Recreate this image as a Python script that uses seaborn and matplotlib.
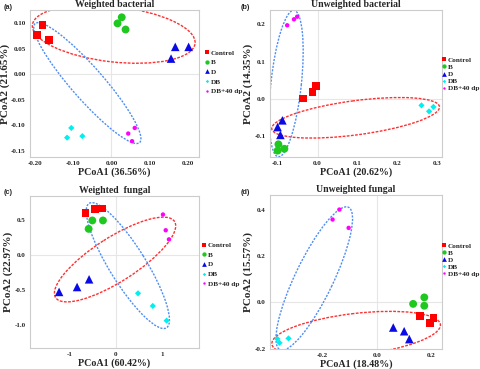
import numpy as np
import pandas as pd
import matplotlib
matplotlib.use("Agg")
import matplotlib.pyplot as plt
import seaborn as sns
from matplotlib.patches import Ellipse
from matplotlib.transforms import IdentityTransform

# group labels (same order in every panel, 3 samples each)
groups = ["Control"] * 3 + ["B"] * 3 + ["D"] * 3 + ["DB"] * 3 + ["DB+40 dp"] * 3
group_order = ["Control", "B", "D", "DB", "DB+40 dp"]

# (a) weighted bacterial
a_x = [-0.194, -0.180, -0.164, 0.016, 0.027, 0.037, 0.156, 0.167, 0.202,
       -0.116, -0.105, -0.076, 0.044, 0.054, 0.061]
a_y = [0.077, 0.097, 0.067, 0.100, 0.112, 0.088, 0.031, 0.054, 0.054,
       -0.124, -0.105, -0.121, -0.116, -0.131, -0.105]
# (b) unweighted bacterial
b_x = [-0.036, -0.013, -0.004, -0.098, -0.100, -0.083, -0.100, -0.088, -0.093,
       0.260, 0.279, 0.290, -0.076, -0.059, -0.051]
b_y = [0.001, 0.018, 0.034, -0.121, -0.138, -0.133, -0.075, -0.057, -0.096,
       -0.017, -0.033, -0.021, 0.197, 0.213, 0.220]
# (c) weighted fungal
c_x = [-0.66, -0.45, -0.30, -0.51, -0.28, -0.59, -1.23, -0.84, -0.58,
       0.48, 0.80, 1.10, 1.02, 1.08, 1.15]
c_y = [0.60, 0.65, 0.66, 0.49, 0.49, 0.37, -0.53, -0.46, -0.35,
       -0.55, -0.73, -0.94, 0.575, 0.35, 0.22]
# (d) unweighted fungal
d_x = [0.158, 0.196, 0.208, 0.133, 0.174, 0.174, 0.060, 0.100, 0.119,
       -0.366, -0.358, -0.325, -0.163, -0.138, -0.104]
d_y = [-0.058, -0.088, -0.066, -0.006, 0.022, -0.014, -0.108, -0.124, -0.158,
       -0.157, -0.174, -0.155, 0.358, 0.401, 0.322]

titles = ["Weighted bacterial", "Unweighted bacterial", "Weighted  fungal", "Unweighted fungal"]
letters = ["(a)", "(b)", "(c)", "(d)"]
x_labels = ["PCoA1 (36.56%)", "PCoA1 (20.62%)", "PCoA1 (60.42%)", "PCoA1 (18.48%)"]
y_labels = ["PCoA2 (21.65%)", "PCoA2 (14.35%)", "PCoA2 (22.97%)", "PCoA2 (15.57%)"]

# groups enclosed by the red and blue ellipses
red_groups = [["Control", "B", "D"], ["D", "DB"], ["D", "DB+40 dp"], ["Control", "D", "DB"]]
blue_groups = [["Control", "DB+40 dp"], ["B", "D", "DB+40 dp"], ["Control", "DB"], ["DB", "DB+40 dp"]]

sns.set_style("white")
plt.rcParams["font.family"] = ["Liberation Serif", "DejaVu Serif"]
plt.rcParams["font.weight"] = "bold"

palette = {"Control": "#ff0000", "B": "#1ec81e", "D": "#0a0ae6",
           "DB": "#00f0f0", "DB+40 dp": "#ff00ff"}
markers = {"Control": "s", "B": "o", "D": "^", "DB": "D", "DB+40 dp": "o"}
sizes = {"Control": 30, "B": 32, "D": 38, "DB": 10, "DB+40 dp": 10}


def group_ellipse(ax, df, members, color, ls, pad_major=6, pad_minor=10):
    # ellipse along the principal axis of the enclosed groups (pixel space)
    sub = df[df["group"].isin(members)]
    pix = ax.transData.transform(sub[["x", "y"]].to_numpy())
    mu = pix.mean(axis=0)
    vals, vecs = np.linalg.eigh(np.cov((pix - mu).T))
    major = vecs[:, 1]
    minor = vecs[:, 0]
    u = (pix - mu) @ major
    v = (pix - mu) @ minor
    uc = (u.max() + u.min()) / 2
    vc = (v.max() + v.min()) / 2
    a = np.abs(u - uc).max() + pad_major
    b = np.abs(v - vc).max() + pad_minor
    center = mu + uc * major + vc * minor
    angle = np.degrees(np.arctan2(major[1], major[0]))
    ax.add_patch(Ellipse(center, 2 * a, 2 * b, angle=angle, fill=False,
                         edgecolor=color, lw=1.0, linestyle=ls,
                         transform=IdentityTransform(), zorder=1))


fig = plt.figure(figsize=(4.8, 3.69), dpi=100)
axes_pos = [[0.0625, 0.5745, 0.352, 0.398],
            [0.5625, 0.5745, 0.358, 0.398],
            [0.0625, 0.057, 0.352, 0.412],
            [0.5625, 0.054, 0.358, 0.417]]
limits = [((-0.213, 0.229), (-0.162, 0.126)),
          ((-0.119, 0.311), (-0.155, 0.2375)),
          ((-1.86, 1.80), (-1.33, 0.84)),
          ((-0.393, 0.2385), (-0.201, 0.463))]
xticks = [[-0.2, -0.1, 0, 0.1, 0.2], [-0.1, 0, 0.1, 0.2, 0.3], [-1, 0, 1], [-0.2, 0.0, 0.2]]
yticks = [[-0.15, -0.10, -0.05, 0, 0.05, 0.10], [-0.1, 0, 0.1, 0.2], [-1.0, -0.5, 0.0, 0.5],
          [-0.2, 0.0, 0.2, 0.4]]
xfmt = ["{:.2f}", "{:.1f}", "{:.0f}", "{:.1f}"]
yfmt = ["{:.2f}", "{:.1f}", "{:.1f}", "{:.1f}"]
letter_pos = [(0.008, 0.99), (0.502, 0.99), (0.008, 0.488), (0.502, 0.488)]
legend_anchor = [(1.024, 0.58), (0.988, 0.565), (1.006, 0.55), (0.988, 0.58)]
legend_spacing = [0.5, 0.15, 0.5, 0.12]

data = [(a_x, a_y), (b_x, b_y), (c_x, c_y), (d_x, d_y)]

for i, (xs, ys) in enumerate(data):
    df = pd.DataFrame({"x": xs, "y": ys, "group": groups})
    ax = fig.add_axes(axes_pos[i])
    ax.set_xlim(*limits[i][0])
    ax.set_ylim(*limits[i][1])
    ax.axhline(0, color="#e6e6e6", lw=0.8, zorder=0)
    ax.axvline(0, color="#e6e6e6", lw=0.8, zorder=0)
    group_ellipse(ax, df, red_groups[i], "#ff3030", (0, (2, 1)))
    group_ellipse(ax, df, blue_groups[i], "#4f8df5", (0, (1.5, 1)))
    sns.scatterplot(data=df, x="x", y="y", hue="group", style="group", size="group",
                    hue_order=group_order, style_order=group_order, size_order=group_order,
                    palette=palette, markers=markers, sizes=sizes,
                    linewidth=0, ax=ax, zorder=3)
    ax.set_xlim(*limits[i][0])
    ax.set_ylim(*limits[i][1])
    ax.set_xticks(xticks[i])
    ax.set_xticklabels([xfmt[i].format(v) for v in xticks[i]])
    ax.set_yticks(yticks[i])
    ax.set_yticklabels([yfmt[i].format(v) for v in yticks[i]])
    ax.tick_params(labelsize=5, length=1.5, width=0.5, color="#bbbbbb", pad=1.5)
    for s in ax.spines.values():
        s.set_color("#cccccc")
        s.set_linewidth(0.8)
    ax.set_xlabel(x_labels[i], fontsize=7.2, fontweight="bold", labelpad=1)
    ax.set_ylabel(y_labels[i], fontsize=8, fontweight="bold", labelpad=1)
    ax.set_title(titles[i], fontsize=7, fontweight="bold", pad=2)
    fig.text(letter_pos[i][0], letter_pos[i][1], letters[i], fontsize=5.2,
             fontweight="bold", va="top", family=["Liberation Sans", "DejaVu Sans"])
    sns.move_legend(ax, "center left", bbox_to_anchor=legend_anchor[i], frameon=False,
                    title=None, markerscale=0.55, handlelength=0.7, handletextpad=0.2,
                    labelspacing=legend_spacing[i], fontsize=5.2, borderaxespad=0,
                    borderpad=0.2)

fig.savefig("out.png", dpi=100)
